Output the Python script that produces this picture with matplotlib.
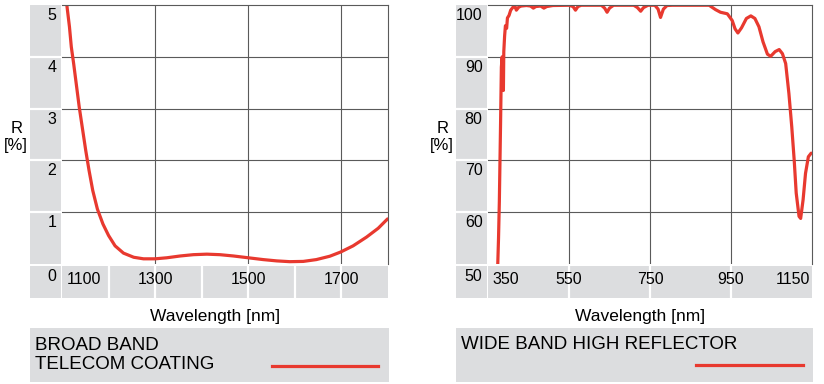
import matplotlib
matplotlib.use('Agg')
import matplotlib.pyplot as plt
from matplotlib.lines import Line2D
from matplotlib.transforms import ScaledTranslation

plt.rcParams['font.family'] = ['Liberation Sans', 'DejaVu Sans']

# broad band telecom coating
wl_left = [1109, 1116, 1120, 1125, 1131, 1137, 1144, 1151, 1158, 1166, 1176, 1188,
           1200, 1214, 1232, 1254, 1275, 1300, 1325, 1354, 1382, 1411, 1439, 1468,
           1500, 1532, 1561, 1589, 1618, 1646, 1675, 1698, 1725, 1754, 1779, 1799]
r_left = [5.1, 4.58, 4.19, 3.87, 3.45, 3.03, 2.61, 2.19, 1.81, 1.42, 1.06, 0.77,
          0.55, 0.35, 0.21, 0.13, 0.10, 0.10, 0.12, 0.155, 0.18, 0.19, 0.18, 0.155,
          0.12, 0.085, 0.06, 0.045, 0.05, 0.085, 0.15, 0.23, 0.35, 0.52, 0.69, 0.87]

# wide band high reflector
wl_right = [373, 376, 378, 381, 383, 385, 386, 388, 389, 391, 393, 396, 398, 402,
            406, 412, 416, 420, 426, 432, 445, 455, 462, 468, 480, 488, 495, 510,
            550, 560, 566, 572, 580, 630, 638, 644, 650, 660, 710, 719, 727, 734,
            745, 762, 770, 776, 783, 792, 805, 896, 912, 924, 941, 953, 960, 967,
            976, 988, 999, 1009, 1019, 1029, 1040, 1048, 1059, 1069, 1077, 1085,
            1093, 1100, 1106, 1111, 1118, 1122, 1128, 1134, 1141, 1148]
r_right = [47, 55, 62, 77, 88, 90, 85, 83.5, 91, 94, 96, 95.5, 97.5, 98,
           99, 99.6, 99.9, 99, 99.6, 99.8, 99.9, 99.8, 99.4, 99.7, 99.8, 99.4, 99.7, 99.9,
           99.95, 99.7, 99.0, 99.7, 99.95, 99.95, 99.4, 98.6, 99.4, 99.95, 99.95, 99.5, 98.8, 99.5,
           99.95, 99.95, 99.2, 97.6, 99.2, 99.9, 99.95, 99.95, 99.1, 98.6, 98.3, 97.0, 95.4, 94.6,
           95.6, 97.4, 97.9, 97.4, 95.8, 92.9, 90.5, 90.1, 91.0, 91.4, 90.6, 88.7,
           82.9, 76.5, 70.1, 63.7, 59.2, 58.8, 62.4, 67.5, 70.7, 71.4]

left_xlim = (1100, 1800)
left_ylim = (0, 5)
left_xgrid = [1300, 1500, 1700]
left_xcells = [1200, 1300, 1400, 1500, 1600, 1700]
left_xlabels = [1100, 1300, 1500, 1700]
left_yticks = [0, 1, 2, 3, 4, 5]

right_xlim = (350, 1150)
right_ylim = (50, 100)
right_xgrid = [550, 750, 950]
right_xcells = [550, 750, 950]
right_xlabels = [350, 550, 750, 950, 1150]
right_yticks = [50, 60, 70, 80, 90, 100]

W, H = 824, 384
RED = '#e8392f'
BAND = '#dcdddf'
GRID = '#5a5a5a'

fig = plt.figure(figsize=(W / 100, H / 100), dpi=100)


def box(x0, y0, x1, y1):
    return [x0 / W, 1 - y1 / H, (x1 - x0) / W, (y1 - y0) / H]


def px_off(dx, dy):
    return ScaledTranslation(dx / 100, dy / 100, fig.dpi_scale_trans)


def gray_axes(rect):
    a = fig.add_axes(rect)
    a.axis('off')
    a.add_patch(plt.Rectangle((0, 0), 1, 1, transform=a.transAxes, color=BAND, zorder=0))
    return a


def panel(axl, axr, xl, yl, xgrid, xcells, xlabels, yticks, wl, r, title,
          legend_x, legend_y, base):
    yb_l = axl - 32

    # corner cell first so the lowest y label sits on top of it
    gray_axes(box(yb_l, 266, axl - 1, 298))

    ax = fig.add_axes(box(axl, 5, axr, 264))
    ax.plot(wl, r, color=RED, lw=2.3, solid_capstyle='round')
    ax.set_xlim(*xl)
    ax.set_ylim(*yl)
    for v in xgrid:
        ax.axvline(v, color=GRID, lw=0.8, zorder=0)
    for v in yticks[1:-1]:
        ax.axhline(v, color=GRID, lw=0.8, zorder=0)
    ax.set_xticks([])
    ax.set_yticks([])
    for s in ['left', 'bottom']:
        ax.spines[s].set_visible(False)
    for s in ['top', 'right']:
        ax.spines[s].set_color(GRID)
        ax.spines[s].set_linewidth(0.8)

    # x band
    bx = gray_axes(box(axl, 266, axr, 298))
    bx.set_xlim(*xl)
    for v in xcells:
        bx.axvline(v, color='white', lw=1.6)
    tr = bx.get_xaxis_transform()
    for v in xlabels:
        if v == xl[0]:
            bx.text(v, 0.44, str(v), ha='left', va='baseline', fontsize=11.5,
                    transform=tr + px_off(4.5, 0))
        elif v == xl[1]:
            bx.text(v, 0.44, str(v), ha='right', va='baseline', fontsize=11.5,
                    transform=tr + px_off(-2, 0))
        else:
            bx.text(v, 0.44, str(v), ha='center', va='baseline', fontsize=11.5, transform=tr)

    # y band
    by = gray_axes(box(yb_l, 5, axl - 1, 264))
    by.set_ylim(*yl)
    for v in yticks[1:-1]:
        by.axhline(v, color='white', lw=1.6)
    ty = by.get_yaxis_transform()
    for v in yticks:
        dy = -17 if v == yl[0] else -15
        by.text(1, v, str(v), ha='right', va='baseline', fontsize=11.5,
                transform=ty + px_off(-4.5, dy), clip_on=False, zorder=5)

    # axis titles
    fig.text((yb_l - 13) / W, 1 - 133 / H, 'R', ha='center', va='baseline', fontsize=12)
    fig.text((yb_l - 14.5) / W, 1 - 149.5 / H, '[%]', ha='center', va='baseline', fontsize=12)
    fig.text(((axl + axr) / 2 - 10) / W, 1 - 321 / H, 'Wavelength [nm]', ha='center',
             va='baseline', fontsize=12.5)

    # legend box
    gray_axes(box(yb_l, 328, axr + 1, 382))
    for i, line in enumerate(title.split('\n')):
        fig.text((yb_l + 5) / W, 1 - (base + 19 * i) / H, line, ha='left', va='baseline',
                 fontsize=13.5)
    fig.add_artist(Line2D([legend_x[0] / W, legend_x[1] / W],
                          [1 - legend_y / H, 1 - legend_y / H], color=RED, lw=2.3))


panel(62, 388, left_xlim, left_ylim, left_xgrid, left_xcells, left_xlabels, left_yticks,
      wl_left, r_left, 'BROAD BAND\nTELECOM COATING', (272, 378), 366, 350)
panel(488, 812, right_xlim, right_ylim, right_xgrid, right_xcells, right_xlabels, right_yticks,
      wl_right, r_right, 'WIDE BAND HIGH REFLECTOR', (696, 803), 365, 349)

fig.savefig('out.png', dpi=100, facecolor='white')
